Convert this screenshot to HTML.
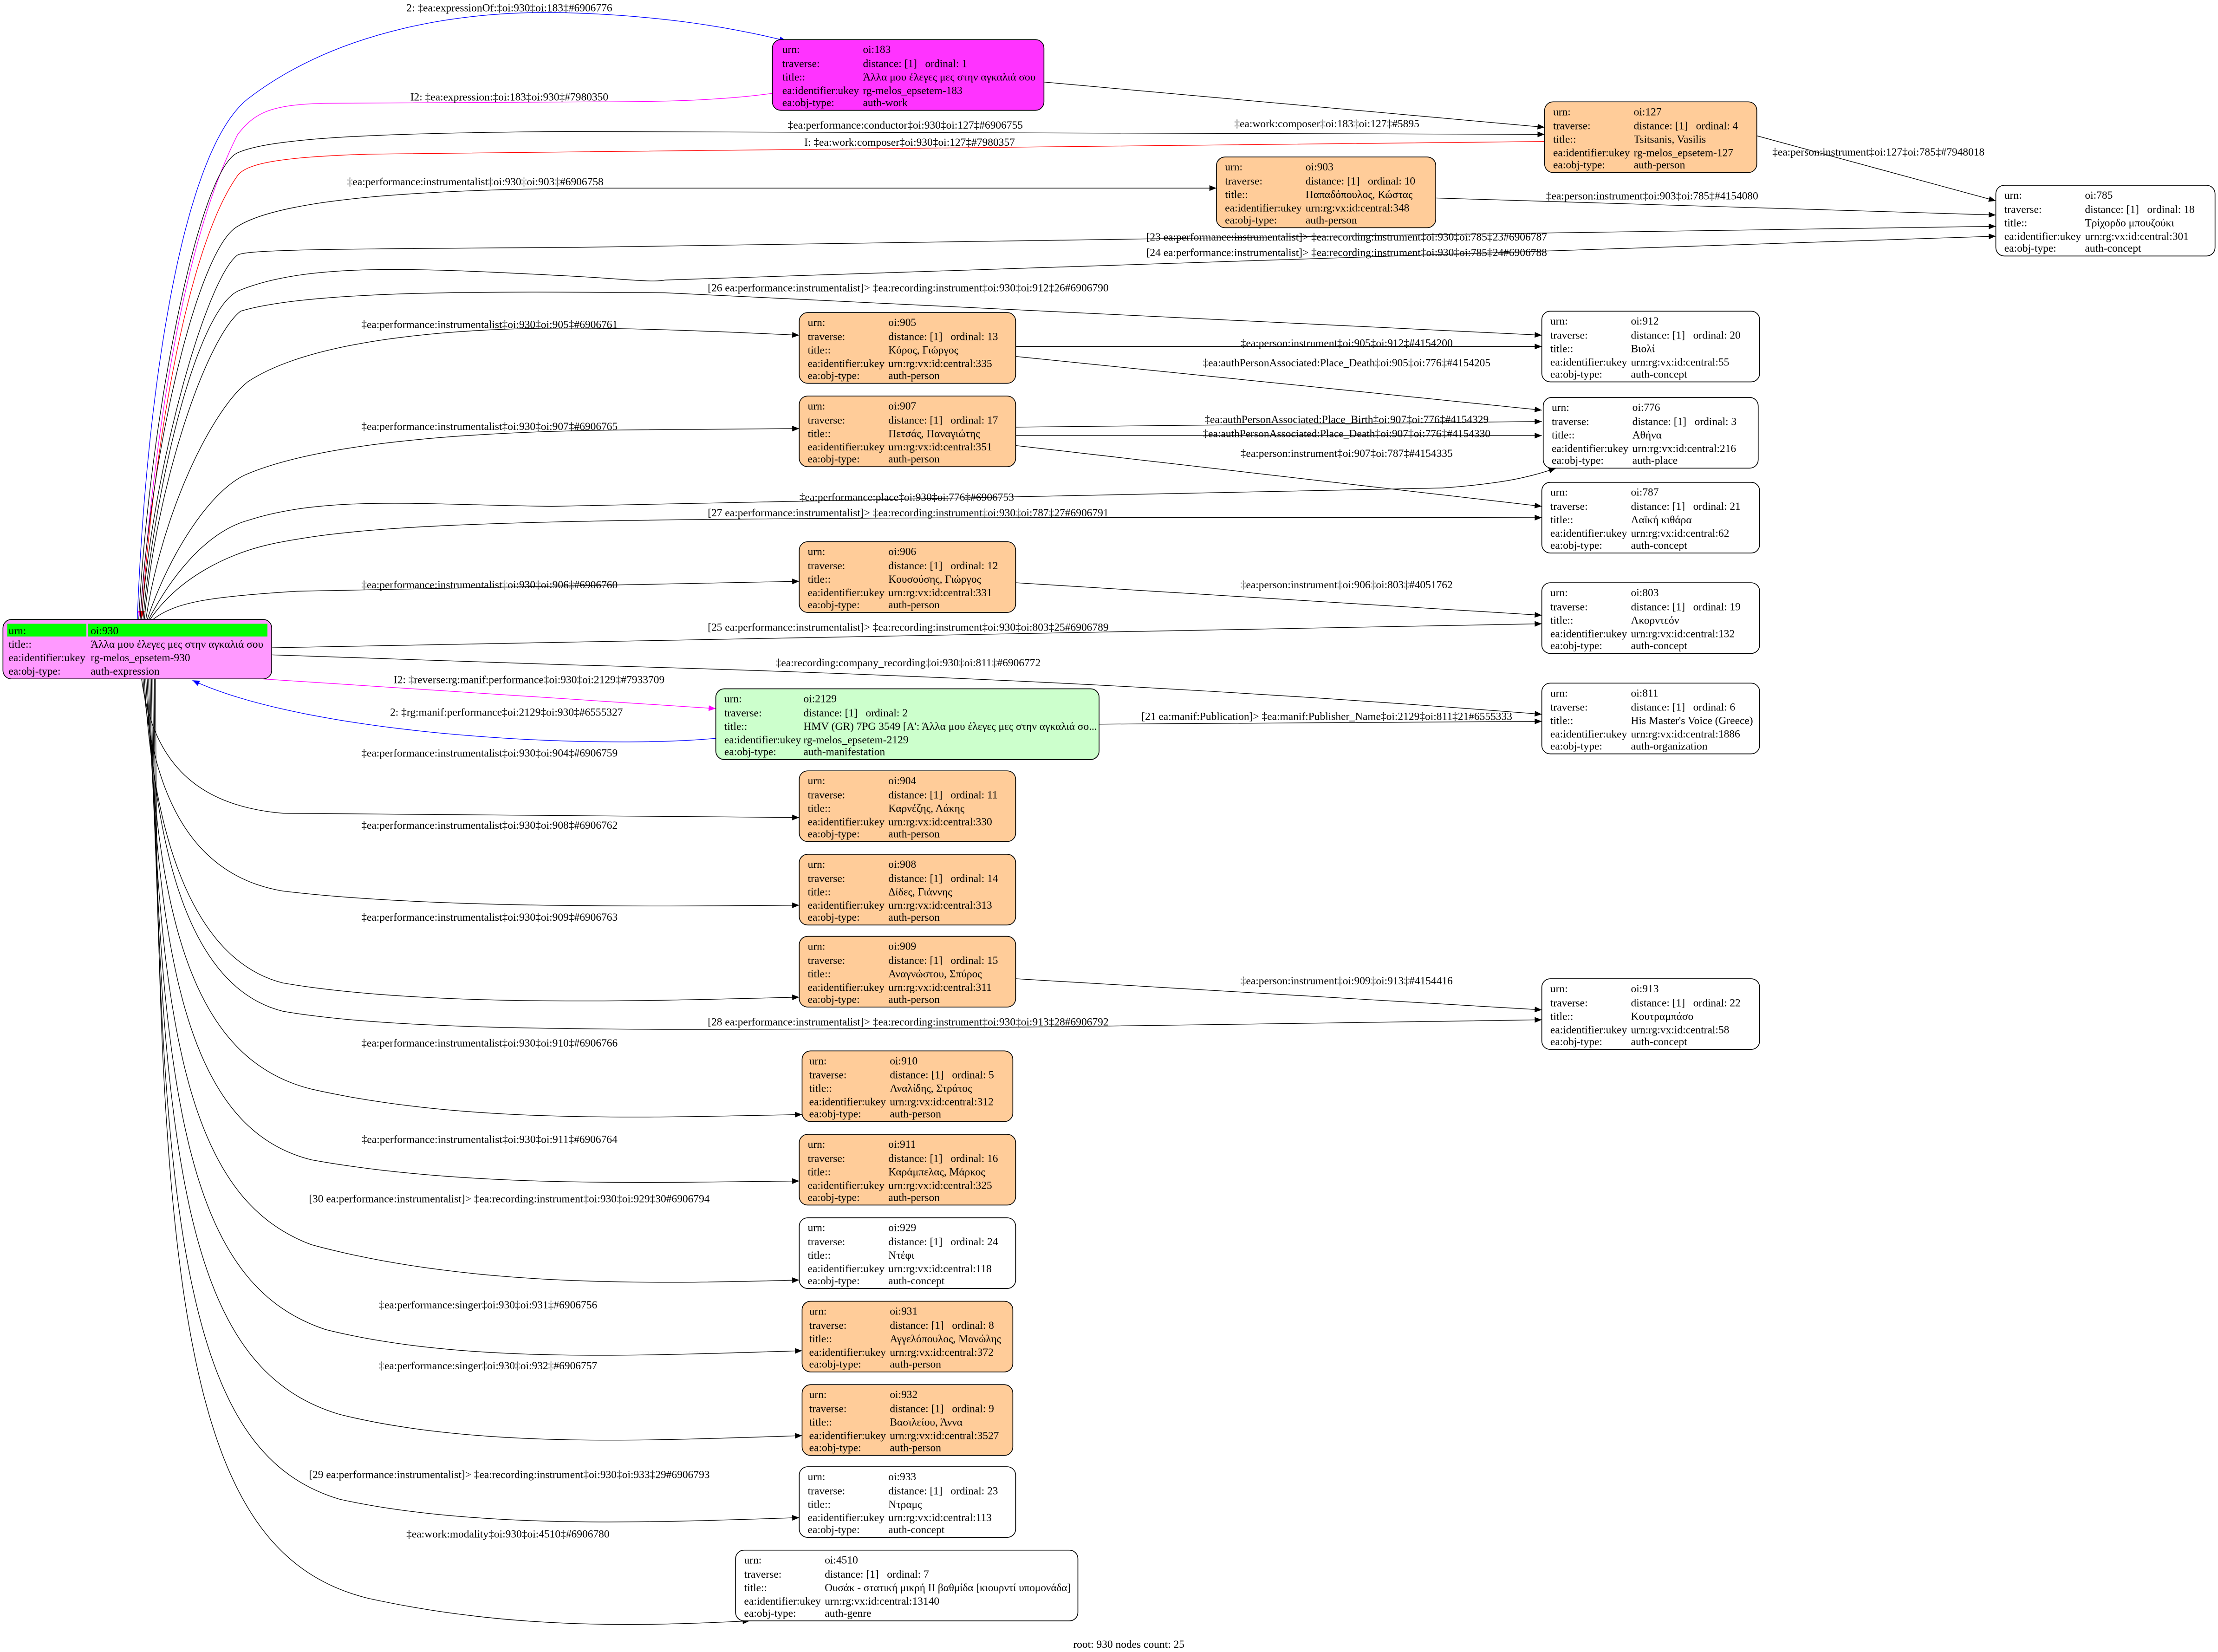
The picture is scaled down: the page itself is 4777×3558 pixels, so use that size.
<!DOCTYPE html>
<html><head><meta charset="utf-8"><style>
html,body{margin:0;padding:0;background:#fff;}
svg{display:block;}
text{font-family:"Liberation Serif","DejaVu Serif",serif;}
.n text{font-size:7.7px;fill:#000;}
.l{font-size:7.7px;text-anchor:middle;fill:#000;}
.e{fill:none;stroke:#000;stroke-width:0.45;}
.c{fill:none;stroke-width:0.45;}
.box{stroke:#000;stroke-width:0.55;}
</style></head><body>
<svg width="4777" height="3558" viewBox="0 0 1568 1168" xmlns="http://www.w3.org/2000/svg">
<defs>
<marker id="ak" viewBox="0 0 10 10" refX="10" refY="5" markerWidth="5.5" markerHeight="5" markerUnits="userSpaceOnUse" orient="auto"><path d="M0,1 L10,5 L0,9z" fill="#000"/></marker>
<marker id="ab" viewBox="0 0 10 10" refX="10" refY="5" markerWidth="5.5" markerHeight="5" markerUnits="userSpaceOnUse" orient="auto"><path d="M0,1 L10,5 L0,9z" fill="#00f"/></marker>
<marker id="am" viewBox="0 0 10 10" refX="10" refY="5" markerWidth="5.5" markerHeight="5" markerUnits="userSpaceOnUse" orient="auto"><path d="M0,1 L10,5 L0,9z" fill="#f0f"/></marker>
<marker id="ar" viewBox="0 0 10 10" refX="10" refY="5" markerWidth="5.5" markerHeight="5" markerUnits="userSpaceOnUse" orient="auto"><path d="M0,1 L10,5 L0,9z" fill="#f00"/></marker>
</defs>
<rect width="1568" height="1168" fill="#fff"/>

<!-- edges from root upward -->
<path class="c" stroke="#00f" d="M97,438 C102,300 125,110 175,70 C240,20 330,7 400,9 C470,11 520,20 556,29" marker-end="url(#ab)"/>
<path class="c" stroke="#f0f" d="M546,66 C510,71 470,72 420,72 L230,73 C190,74 180,80 168,95 C130,170 110,300 99,437" marker-end="url(#am)"/>
<path class="e" d="M98,438 C105,300 140,120 168,108 C190,98 260,94 400,93 L1092,95" marker-end="url(#ak)"/>
<path class="c" stroke="#f00" d="M1092,100 L260,109 C200,111 175,115 168,124 C135,170 110,300 100,437" marker-end="url(#ar)"/>
<path class="e" d="M99,438 C106,320 140,175 168,160 C200,140 300,134 420,133 L860,133" marker-end="url(#ak)"/>
<path class="e" d="M100,438 C108,330 145,200 167,181 C170,177 200,176 400,175 L1411,160" marker-end="url(#ak)"/>
<path class="e" d="M101,438 C110,340 140,215 170,205 C220,185 300,190 400,195 C440,197 460,200 470,198 L1411,167" marker-end="url(#ak)"/>
<path class="e" d="M102,438 C110,345 145,240 170,220 C220,205 350,206 470,207 L1090,237" marker-end="url(#ak)"/>
<path class="e" d="M103,438 C115,360 150,290 175,270 C220,240 320,232 400,232 C450,232 500,234 565,237" marker-end="url(#ak)"/>
<path class="e" d="M104,438 C120,390 150,345 175,335 C230,312 340,305 440,304 L565,303" marker-end="url(#ak)"/>
<path class="e" d="M105,438 C125,400 150,375 175,368 C230,350 300,357 390,358 L1020,345 C1060,342 1080,338 1100,331" marker-end="url(#ak)"/>
<path class="e" d="M106,438 C125,410 160,390 200,383 C280,368 400,365 1090,366" marker-end="url(#ak)"/>
<path class="e" d="M108,438 C125,425 150,422 210,418 L565,411" marker-end="url(#ak)"/>
<path class="e" d="M192,458 L1090,441" marker-end="url(#ak)"/>
<path class="e" d="M192,463 L400,470 C700,478 900,490 1090,505" marker-end="url(#ak)"/>

<!-- manifestation -->
<path class="c" stroke="#f0f" d="M185,480 L506,501" marker-end="url(#am)"/>
<path class="c" stroke="#00f" d="M506,522 C420,530 220,520 136,481" marker-end="url(#ab)"/>

<!-- root downward -->
<path class="e" d="M100,480 C108,540 140,570 200,575 L565,578" marker-end="url(#ak)"/>
<path class="e" d="M101,480 C108,570 140,620 200,630 C300,642 450,641 565,640" marker-end="url(#ak)"/>
<path class="e" d="M102,480 C108,600 140,680 200,695 C300,712 450,708 565,705" marker-end="url(#ak)"/>
<path class="e" d="M103,480 C110,620 140,700 200,715 C300,732 500,730 1090,721" marker-end="url(#ak)"/>
<path class="e" d="M104,480 C110,660 140,750 220,770 C330,795 460,790 567,788" marker-end="url(#ak)"/>
<path class="e" d="M105,480 C110,700 140,800 220,820 C330,840 460,836 565,835" marker-end="url(#ak)"/>
<path class="e" d="M106,480 C110,750 140,850 220,880 C330,910 460,908 565,905" marker-end="url(#ak)"/>
<path class="e" d="M107,480 C110,800 140,910 230,940 C330,965 460,958 567,955" marker-end="url(#ak)"/>
<path class="e" d="M108,480 C110,850 140,970 240,1000 C340,1025 470,1018 567,1015" marker-end="url(#ak)"/>
<path class="e" d="M109,480 C110,900 140,1030 240,1060 C340,1082 470,1076 565,1073" marker-end="url(#ak)"/>
<path class="e" d="M110,480 C110,950 140,1100 260,1130 C360,1152 450,1150 530,1146" marker-end="url(#ak)"/>

<!-- node to node -->
<path class="e" d="M738,58 L1092,90" marker-end="url(#ak)"/>
<path class="e" d="M1242,96 L1411,142" marker-end="url(#ak)"/>
<path class="e" d="M1015,140 L1411,152" marker-end="url(#ak)"/>
<path class="e" d="M718,245 L1090,245" marker-end="url(#ak)"/>
<path class="e" d="M718,252 L1090,290" marker-end="url(#ak)"/>
<path class="e" d="M718,302 L1090,298" marker-end="url(#ak)"/>
<path class="e" d="M718,308 L1090,308" marker-end="url(#ak)"/>
<path class="e" d="M718,315 L1090,358" marker-end="url(#ak)"/>
<path class="e" d="M718,412 L1090,435" marker-end="url(#ak)"/>
<path class="e" d="M777,512 L1090,510" marker-end="url(#ak)"/>
<path class="e" d="M718,692 L1090,714" marker-end="url(#ak)"/>

<!-- edge labels -->
<text class="l" x="360" y="8">2: ‡ea:expressionOf:‡oi:930‡oi:183‡#6906776</text>
<text class="l" x="360" y="71">I2: ‡ea:expression:‡oi:183‡oi:930‡#7980350</text>
<text class="l" x="938" y="90">‡ea:work:composer‡oi:183‡oi:127‡#5895</text>
<text class="l" x="640" y="91">‡ea:performance:conductor‡oi:930‡oi:127‡#6906755</text>
<text class="l" x="643" y="103">I: ‡ea:work:composer‡oi:930‡oi:127‡#7980357</text>
<text class="l" x="336" y="131">‡ea:performance:instrumentalist‡oi:930‡oi:903‡#6906758</text>
<text class="l" x="1328" y="110">‡ea:person:instrument‡oi:127‡oi:785‡#7948018</text>
<text class="l" x="1168" y="141">‡ea:person:instrument‡oi:903‡oi:785‡#4154080</text>
<text class="l" x="952" y="170">[23 ea:performance:instrumentalist]&gt; ‡ea:recording:instrument‡oi:930‡oi:785‡23#6906787</text>
<text class="l" x="952" y="181">[24 ea:performance:instrumentalist]&gt; ‡ea:recording:instrument‡oi:930‡oi:785‡24#6906788</text>
<text class="l" x="642" y="206">[26 ea:performance:instrumentalist]&gt; ‡ea:recording:instrument‡oi:930‡oi:912‡26#6906790</text>
<text class="l" x="346" y="232">‡ea:performance:instrumentalist‡oi:930‡oi:905‡#6906761</text>
<text class="l" x="952" y="245">‡ea:person:instrument‡oi:905‡oi:912‡#4154200</text>
<text class="l" x="952" y="259">‡ea:authPersonAssociated:Place_Death‡oi:905‡oi:776‡#4154205</text>
<text class="l" x="346" y="304">‡ea:performance:instrumentalist‡oi:930‡oi:907‡#6906765</text>
<text class="l" x="952" y="299">‡ea:authPersonAssociated:Place_Birth‡oi:907‡oi:776‡#4154329</text>
<text class="l" x="952" y="309">‡ea:authPersonAssociated:Place_Death‡oi:907‡oi:776‡#4154330</text>
<text class="l" x="952" y="323">‡ea:person:instrument‡oi:907‡oi:787‡#4154335</text>
<text class="l" x="641" y="354">‡ea:performance:place‡oi:930‡oi:776‡#6906753</text>
<text class="l" x="642" y="365">[27 ea:performance:instrumentalist]&gt; ‡ea:recording:instrument‡oi:930‡oi:787‡27#6906791</text>
<text class="l" x="346" y="416">‡ea:performance:instrumentalist‡oi:930‡oi:906‡#6906760</text>
<text class="l" x="952" y="416">‡ea:person:instrument‡oi:906‡oi:803‡#4051762</text>
<text class="l" x="642" y="446">[25 ea:performance:instrumentalist]&gt; ‡ea:recording:instrument‡oi:930‡oi:803‡25#6906789</text>
<text class="l" x="642" y="471">‡ea:recording:company_recording‡oi:930‡oi:811‡#6906772</text>
<text class="l" x="374" y="483">I2: ‡reverse:rg:manif:performance‡oi:930‡oi:2129‡#7933709</text>
<text class="l" x="358" y="506">2: ‡rg:manif:performance‡oi:2129‡oi:930‡#6555327</text>
<text class="l" x="938" y="509">[21 ea:manif:Publication]&gt; ‡ea:manif:Publisher_Name‡oi:2129‡oi:811‡21#6555333</text>
<text class="l" x="346" y="535">‡ea:performance:instrumentalist‡oi:930‡oi:904‡#6906759</text>
<text class="l" x="346" y="586">‡ea:performance:instrumentalist‡oi:930‡oi:908‡#6906762</text>
<text class="l" x="346" y="651">‡ea:performance:instrumentalist‡oi:930‡oi:909‡#6906763</text>
<text class="l" x="952" y="696">‡ea:person:instrument‡oi:909‡oi:913‡#4154416</text>
<text class="l" x="642" y="725">[28 ea:performance:instrumentalist]&gt; ‡ea:recording:instrument‡oi:930‡oi:913‡28#6906792</text>
<text class="l" x="346" y="740">‡ea:performance:instrumentalist‡oi:930‡oi:910‡#6906766</text>
<text class="l" x="346" y="808">‡ea:performance:instrumentalist‡oi:930‡oi:911‡#6906764</text>
<text class="l" x="360" y="850">[30 ea:performance:instrumentalist]&gt; ‡ea:recording:instrument‡oi:930‡oi:929‡30#6906794</text>
<text class="l" x="345" y="925">‡ea:performance:singer‡oi:930‡oi:931‡#6906756</text>
<text class="l" x="345" y="968">‡ea:performance:singer‡oi:930‡oi:932‡#6906757</text>
<text class="l" x="360" y="1045">[29 ea:performance:instrumentalist]&gt; ‡ea:recording:instrument‡oi:930‡oi:933‡29#6906793</text>
<text class="l" x="359" y="1087">‡ea:work:modality‡oi:930‡oi:4510‡#6906780</text>
<text class="l" x="798" y="1165">root: 930 nodes count: 25</text>

<!-- root node -->
<g class="n">
<rect class="box" x="2" y="438" width="190" height="42" rx="6" fill="#ff99ff"/>
<rect x="5" y="441" width="56" height="9" fill="#00ff00"/>
<rect x="62" y="441" width="127" height="9" fill="#00ff00"/>
<text x="6" y="448.5">urn:</text><text x="64" y="448.5">oi:930</text>
<text x="6" y="458">title::</text><text x="64" y="458">Άλλα μου έλεγες μες στην αγκαλιά σου</text>
<text x="6" y="467.5">ea:identifier:ukey</text><text x="64" y="467.5">rg-melos_epsetem-930</text>
<text x="6" y="477">ea:obj-type:</text><text x="64" y="477">auth-expression</text>
</g>

<g class="n" transform="translate(546,28)">
<rect class="box" x="0" y="0" width="192" height="50" rx="6" fill="#ff33ff"/>
<text x="7" y="9.5">urn:</text><text x="64" y="9.5">oi:183</text>
<text x="7" y="19.5">traverse:</text><text x="64" y="19.5">distance: [1]</text><text x="108" y="19.5">ordinal: 1</text>
<text x="7" y="29">title::</text><text x="64" y="29">Άλλα μου έλεγες μες στην αγκαλιά σου</text>
<text x="7" y="38.5">ea:identifier:ukey</text><text x="64" y="38.5">rg-melos_epsetem-183</text>
<text x="7" y="47">ea:obj-type:</text><text x="64" y="47">auth-work</text>
</g>

<g class="n" transform="translate(1092,72)">
<rect class="box" width="150" height="50" rx="6" fill="#ffcc99"/>
<text x="6" y="9.5">urn:</text><text x="63" y="9.5">oi:127</text>
<text x="6" y="19.5">traverse:</text><text x="63" y="19.5">distance: [1]</text><text x="107" y="19.5">ordinal: 4</text>
<text x="6" y="29">title::</text><text x="63" y="29">Tsitsanis, Vasilis</text>
<text x="6" y="38.5">ea:identifier:ukey</text><text x="63" y="38.5">rg-melos_epsetem-127</text>
<text x="6" y="47">ea:obj-type:</text><text x="63" y="47">auth-person</text>
</g>

<g class="n" transform="translate(860,111)">
<rect class="box" width="155" height="50" rx="6" fill="#ffcc99"/>
<text x="6" y="9.5">urn:</text><text x="63" y="9.5">oi:903</text>
<text x="6" y="19.5">traverse:</text><text x="63" y="19.5">distance: [1]</text><text x="107" y="19.5">ordinal: 10</text>
<text x="6" y="29">title::</text><text x="63" y="29">Παπαδόπουλος, Κώστας</text>
<text x="6" y="38.5">ea:identifier:ukey</text><text x="63" y="38.5">urn:rg:vx:id:central:348</text>
<text x="6" y="47">ea:obj-type:</text><text x="63" y="47">auth-person</text>
</g>

<g class="n" transform="translate(1411,131)">
<rect class="box" width="155" height="50" rx="6" fill="#fff"/>
<text x="6" y="9.5">urn:</text><text x="63" y="9.5">oi:785</text>
<text x="6" y="19.5">traverse:</text><text x="63" y="19.5">distance: [1]</text><text x="107" y="19.5">ordinal: 18</text>
<text x="6" y="29">title::</text><text x="63" y="29">Τρίχορδο μπουζούκι</text>
<text x="6" y="38.5">ea:identifier:ukey</text><text x="63" y="38.5">urn:rg:vx:id:central:301</text>
<text x="6" y="47">ea:obj-type:</text><text x="63" y="47">auth-concept</text>
</g>

<g class="n" transform="translate(1090,220)">
<rect class="box" width="154" height="50" rx="6" fill="#fff"/>
<text x="6" y="9.5">urn:</text><text x="63" y="9.5">oi:912</text>
<text x="6" y="19.5">traverse:</text><text x="63" y="19.5">distance: [1]</text><text x="107" y="19.5">ordinal: 20</text>
<text x="6" y="29">title::</text><text x="63" y="29">Βιολί</text>
<text x="6" y="38.5">ea:identifier:ukey</text><text x="63" y="38.5">urn:rg:vx:id:central:55</text>
<text x="6" y="47">ea:obj-type:</text><text x="63" y="47">auth-concept</text>
</g>

<g class="n" transform="translate(565,221)">
<rect class="box" width="153" height="50" rx="6" fill="#ffcc99"/>
<text x="6" y="9.5">urn:</text><text x="63" y="9.5">oi:905</text>
<text x="6" y="19.5">traverse:</text><text x="63" y="19.5">distance: [1]</text><text x="107" y="19.5">ordinal: 13</text>
<text x="6" y="29">title::</text><text x="63" y="29">Κόρος, Γιώργος</text>
<text x="6" y="38.5">ea:identifier:ukey</text><text x="63" y="38.5">urn:rg:vx:id:central:335</text>
<text x="6" y="47">ea:obj-type:</text><text x="63" y="47">auth-person</text>
</g>

<g class="n" transform="translate(565,280)">
<rect class="box" width="153" height="50" rx="6" fill="#ffcc99"/>
<text x="6" y="9.5">urn:</text><text x="63" y="9.5">oi:907</text>
<text x="6" y="19.5">traverse:</text><text x="63" y="19.5">distance: [1]</text><text x="107" y="19.5">ordinal: 17</text>
<text x="6" y="29">title::</text><text x="63" y="29">Πετσάς, Παναγιώτης</text>
<text x="6" y="38.5">ea:identifier:ukey</text><text x="63" y="38.5">urn:rg:vx:id:central:351</text>
<text x="6" y="47">ea:obj-type:</text><text x="63" y="47">auth-person</text>
</g>

<g class="n" transform="translate(1091,281)">
<rect class="box" width="152" height="50" rx="6" fill="#fff"/>
<text x="6" y="9.5">urn:</text><text x="63" y="9.5">oi:776</text>
<text x="6" y="19.5">traverse:</text><text x="63" y="19.5">distance: [1]</text><text x="107" y="19.5">ordinal: 3</text>
<text x="6" y="29">title::</text><text x="63" y="29">Αθήνα</text>
<text x="6" y="38.5">ea:identifier:ukey</text><text x="63" y="38.5">urn:rg:vx:id:central:216</text>
<text x="6" y="47">ea:obj-type:</text><text x="63" y="47">auth-place</text>
</g>

<g class="n" transform="translate(1090,341)">
<rect class="box" width="154" height="50" rx="6" fill="#fff"/>
<text x="6" y="9.5">urn:</text><text x="63" y="9.5">oi:787</text>
<text x="6" y="19.5">traverse:</text><text x="63" y="19.5">distance: [1]</text><text x="107" y="19.5">ordinal: 21</text>
<text x="6" y="29">title::</text><text x="63" y="29">Λαϊκή κιθάρα</text>
<text x="6" y="38.5">ea:identifier:ukey</text><text x="63" y="38.5">urn:rg:vx:id:central:62</text>
<text x="6" y="47">ea:obj-type:</text><text x="63" y="47">auth-concept</text>
</g>

<g class="n" transform="translate(565,383)">
<rect class="box" width="153" height="50" rx="6" fill="#ffcc99"/>
<text x="6" y="9.5">urn:</text><text x="63" y="9.5">oi:906</text>
<text x="6" y="19.5">traverse:</text><text x="63" y="19.5">distance: [1]</text><text x="107" y="19.5">ordinal: 12</text>
<text x="6" y="29">title::</text><text x="63" y="29">Κουσούσης, Γιώργος</text>
<text x="6" y="38.5">ea:identifier:ukey</text><text x="63" y="38.5">urn:rg:vx:id:central:331</text>
<text x="6" y="47">ea:obj-type:</text><text x="63" y="47">auth-person</text>
</g>

<g class="n" transform="translate(1090,412)">
<rect class="box" width="154" height="50" rx="6" fill="#fff"/>
<text x="6" y="9.5">urn:</text><text x="63" y="9.5">oi:803</text>
<text x="6" y="19.5">traverse:</text><text x="63" y="19.5">distance: [1]</text><text x="107" y="19.5">ordinal: 19</text>
<text x="6" y="29">title::</text><text x="63" y="29">Ακορντεόν</text>
<text x="6" y="38.5">ea:identifier:ukey</text><text x="63" y="38.5">urn:rg:vx:id:central:132</text>
<text x="6" y="47">ea:obj-type:</text><text x="63" y="47">auth-concept</text>
</g>

<g class="n" transform="translate(506,487)">
<rect class="box" width="271" height="50" rx="6" fill="#ccffcc"/>
<text x="6" y="9.5">urn:</text><text x="62" y="9.5">oi:2129</text>
<text x="6" y="19.5">traverse:</text><text x="62" y="19.5">distance: [1]</text><text x="106" y="19.5">ordinal: 2</text>
<text x="6" y="29">title::</text><text x="62" y="29">HMV (GR) 7PG 3549 [Α': Άλλα μου έλεγες μες στην αγκαλιά σο...</text>
<text x="6" y="38.5">ea:identifier:ukey</text><text x="62" y="38.5">rg-melos_epsetem-2129</text>
<text x="6" y="47">ea:obj-type:</text><text x="62" y="47">auth-manifestation</text>
</g>

<g class="n" transform="translate(1090,483)">
<rect class="box" width="154" height="50" rx="6" fill="#fff"/>
<text x="6" y="9.5">urn:</text><text x="63" y="9.5">oi:811</text>
<text x="6" y="19.5">traverse:</text><text x="63" y="19.5">distance: [1]</text><text x="107" y="19.5">ordinal: 6</text>
<text x="6" y="29">title::</text><text x="63" y="29">His Master's Voice (Greece)</text>
<text x="6" y="38.5">ea:identifier:ukey</text><text x="63" y="38.5">urn:rg:vx:id:central:1886</text>
<text x="6" y="47">ea:obj-type:</text><text x="63" y="47">auth-organization</text>
</g>

<g class="n" transform="translate(565,545)">
<rect class="box" width="153" height="50" rx="6" fill="#ffcc99"/>
<text x="6" y="9.5">urn:</text><text x="63" y="9.5">oi:904</text>
<text x="6" y="19.5">traverse:</text><text x="63" y="19.5">distance: [1]</text><text x="107" y="19.5">ordinal: 11</text>
<text x="6" y="29">title::</text><text x="63" y="29">Καρνέζης, Λάκης</text>
<text x="6" y="38.5">ea:identifier:ukey</text><text x="63" y="38.5">urn:rg:vx:id:central:330</text>
<text x="6" y="47">ea:obj-type:</text><text x="63" y="47">auth-person</text>
</g>

<g class="n" transform="translate(565,604)">
<rect class="box" width="153" height="50" rx="6" fill="#ffcc99"/>
<text x="6" y="9.5">urn:</text><text x="63" y="9.5">oi:908</text>
<text x="6" y="19.5">traverse:</text><text x="63" y="19.5">distance: [1]</text><text x="107" y="19.5">ordinal: 14</text>
<text x="6" y="29">title::</text><text x="63" y="29">Δίδες, Γιάννης</text>
<text x="6" y="38.5">ea:identifier:ukey</text><text x="63" y="38.5">urn:rg:vx:id:central:313</text>
<text x="6" y="47">ea:obj-type:</text><text x="63" y="47">auth-person</text>
</g>

<g class="n" transform="translate(565,662)">
<rect class="box" width="153" height="50" rx="6" fill="#ffcc99"/>
<text x="6" y="9.5">urn:</text><text x="63" y="9.5">oi:909</text>
<text x="6" y="19.5">traverse:</text><text x="63" y="19.5">distance: [1]</text><text x="107" y="19.5">ordinal: 15</text>
<text x="6" y="29">title::</text><text x="63" y="29">Αναγνώστου, Σπύρος</text>
<text x="6" y="38.5">ea:identifier:ukey</text><text x="63" y="38.5">urn:rg:vx:id:central:311</text>
<text x="6" y="47">ea:obj-type:</text><text x="63" y="47">auth-person</text>
</g>

<g class="n" transform="translate(1090,692)">
<rect class="box" width="154" height="50" rx="6" fill="#fff"/>
<text x="6" y="9.5">urn:</text><text x="63" y="9.5">oi:913</text>
<text x="6" y="19.5">traverse:</text><text x="63" y="19.5">distance: [1]</text><text x="107" y="19.5">ordinal: 22</text>
<text x="6" y="29">title::</text><text x="63" y="29">Κουτραμπάσο</text>
<text x="6" y="38.5">ea:identifier:ukey</text><text x="63" y="38.5">urn:rg:vx:id:central:58</text>
<text x="6" y="47">ea:obj-type:</text><text x="63" y="47">auth-concept</text>
</g>

<g class="n" transform="translate(567,743)">
<rect class="box" width="149" height="50" rx="6" fill="#ffcc99"/>
<text x="5" y="9.5">urn:</text><text x="62" y="9.5">oi:910</text>
<text x="5" y="19.5">traverse:</text><text x="62" y="19.5">distance: [1]</text><text x="106" y="19.5">ordinal: 5</text>
<text x="5" y="29">title::</text><text x="62" y="29">Αναλίδης, Στράτος</text>
<text x="5" y="38.5">ea:identifier:ukey</text><text x="62" y="38.5">urn:rg:vx:id:central:312</text>
<text x="5" y="47">ea:obj-type:</text><text x="62" y="47">auth-person</text>
</g>

<g class="n" transform="translate(565,802)">
<rect class="box" width="153" height="50" rx="6" fill="#ffcc99"/>
<text x="6" y="9.5">urn:</text><text x="63" y="9.5">oi:911</text>
<text x="6" y="19.5">traverse:</text><text x="63" y="19.5">distance: [1]</text><text x="107" y="19.5">ordinal: 16</text>
<text x="6" y="29">title::</text><text x="63" y="29">Καράμπελας, Μάρκος</text>
<text x="6" y="38.5">ea:identifier:ukey</text><text x="63" y="38.5">urn:rg:vx:id:central:325</text>
<text x="6" y="47">ea:obj-type:</text><text x="63" y="47">auth-person</text>
</g>

<g class="n" transform="translate(565,861)">
<rect class="box" width="153" height="50" rx="6" fill="#fff"/>
<text x="6" y="9.5">urn:</text><text x="63" y="9.5">oi:929</text>
<text x="6" y="19.5">traverse:</text><text x="63" y="19.5">distance: [1]</text><text x="107" y="19.5">ordinal: 24</text>
<text x="6" y="29">title::</text><text x="63" y="29">Ντέφι</text>
<text x="6" y="38.5">ea:identifier:ukey</text><text x="63" y="38.5">urn:rg:vx:id:central:118</text>
<text x="6" y="47">ea:obj-type:</text><text x="63" y="47">auth-concept</text>
</g>

<g class="n" transform="translate(567,920)">
<rect class="box" width="149" height="50" rx="6" fill="#ffcc99"/>
<text x="5" y="9.5">urn:</text><text x="62" y="9.5">oi:931</text>
<text x="5" y="19.5">traverse:</text><text x="62" y="19.5">distance: [1]</text><text x="106" y="19.5">ordinal: 8</text>
<text x="5" y="29">title::</text><text x="62" y="29">Αγγελόπουλος, Μανώλης</text>
<text x="5" y="38.5">ea:identifier:ukey</text><text x="62" y="38.5">urn:rg:vx:id:central:372</text>
<text x="5" y="47">ea:obj-type:</text><text x="62" y="47">auth-person</text>
</g>

<g class="n" transform="translate(567,979)">
<rect class="box" width="149" height="50" rx="6" fill="#ffcc99"/>
<text x="5" y="9.5">urn:</text><text x="62" y="9.5">oi:932</text>
<text x="5" y="19.5">traverse:</text><text x="62" y="19.5">distance: [1]</text><text x="106" y="19.5">ordinal: 9</text>
<text x="5" y="29">title::</text><text x="62" y="29">Βασιλείου, Άννα</text>
<text x="5" y="38.5">ea:identifier:ukey</text><text x="62" y="38.5">urn:rg:vx:id:central:3527</text>
<text x="5" y="47">ea:obj-type:</text><text x="62" y="47">auth-person</text>
</g>

<g class="n" transform="translate(565,1037)">
<rect class="box" width="153" height="50" rx="6" fill="#fff"/>
<text x="6" y="9.5">urn:</text><text x="63" y="9.5">oi:933</text>
<text x="6" y="19.5">traverse:</text><text x="63" y="19.5">distance: [1]</text><text x="107" y="19.5">ordinal: 23</text>
<text x="6" y="29">title::</text><text x="63" y="29">Ντραμς</text>
<text x="6" y="38.5">ea:identifier:ukey</text><text x="63" y="38.5">urn:rg:vx:id:central:113</text>
<text x="6" y="47">ea:obj-type:</text><text x="63" y="47">auth-concept</text>
</g>

<g class="n" transform="translate(520,1096)">
<rect class="box" width="242" height="50" rx="6" fill="#fff"/>
<text x="6" y="9.5">urn:</text><text x="63" y="9.5">oi:4510</text>
<text x="6" y="19.5">traverse:</text><text x="63" y="19.5">distance: [1]</text><text x="107" y="19.5">ordinal: 7</text>
<text x="6" y="29">title::</text><text x="63" y="29" textLength="174" lengthAdjust="spacingAndGlyphs">Ουσάκ - στατική μικρή II βαθμίδα [κιουρντί υπομονάδα]</text>
<text x="6" y="38.5">ea:identifier:ukey</text><text x="63" y="38.5">urn:rg:vx:id:central:13140</text>
<text x="6" y="47">ea:obj-type:</text><text x="63" y="47">auth-genre</text>
</g>
</svg>
</body></html>
